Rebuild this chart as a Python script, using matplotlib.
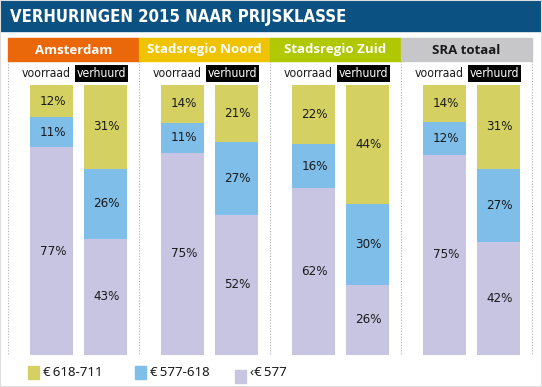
import matplotlib
matplotlib.use("Agg")
import numpy as np
from matplotlib import pyplot as plt
from matplotlib.patches import Rectangle
from matplotlib.transforms import blended_transform_factory

# data
regions = ["Amsterdam", "Stadsregio Noord", "Stadsregio Zuid", "SRA totaal"]
bar_names = ["voorraad", "verhuurd"]
classes = ["€\u2009618-711", "€\u2009577-618", "‹€\u2009577"]
# per region: [voorraad, verhuurd], each as (< 577, 577-618, 618-711)
low = [[77, 43], [75, 52], [62, 26], [75, 42]]
mid = [[11, 26], [11, 27], [16, 30], [12, 27]]
high = [[12, 31], [14, 21], [22, 44], [14, 31]]

# styling
W, H = 542, 387
title_bg = "#0B5283"
head_colors = ["#EA670A", "#F0C300", "#AFC800", "#C7C7C9"]
head_text = ["white", "white", "white", "#1a1a1a"]
col_high = "#D4D162"
col_mid = "#7EBEE9"
col_low = "#C8C5E2"
narrow = dict(family="DejaVu Sans", stretch="condensed")


def fx(x):
    return x / W


def fy(y):
    return 1 - y / H


fig = plt.figure(figsize=(W / 100, H / 100), dpi=100)
fig.patch.set_facecolor("white")

# title bar
fig.patches.append(Rectangle((0, fy(31)), 1, 31 / H, transform=fig.transFigure,
                             color=title_bg, zorder=0))
fig.text(fx(10), fy(16.5), "VERHURINGEN 2015 NAAR PRIJSKLASSE", color="white",
         weight="bold", fontsize=12, va="center", ha="left", **narrow)

# bar axes: group i spans x in [i, i+1]
ax = fig.add_axes([fx(8), fy(355), fx(532) - fx(8), fy(85) - fy(355)])
ax.set_xlim(0, len(regions))
ax.set_ylim(0, 1)
ax.axis("off")

offsets = [0.332, 0.744]
width = 0.328
for i in range(len(regions)):
    for j in range(2):
        vals = np.array([low[i][j], mid[i][j], high[i][j]], dtype=float)
        frac = vals / vals.sum()
        x = i + offsets[j]
        bottom = 0
        for v, f, c in zip(vals, frac, [col_low, col_mid, col_high]):
            ax.bar(x, f, width=width, bottom=bottom, color=c, edgecolor="none")
            ax.text(x + 0.01, bottom + f / 2, "%d%%" % v, ha="center", va="center",
                    fontsize=9.5, color="#1a1a1a", **narrow)
            bottom += f

# headers and labels in data-x / figure-y
tr = blended_transform_factory(ax.transData, fig.transFigure)
for i, name in enumerate(regions):
    ax.add_patch(Rectangle((i, fy(61)), 1, (61 - 38) / H, transform=tr,
                           color=head_colors[i], clip_on=False, zorder=3))
    ax.text(i + 0.5, fy(50), name, transform=tr, ha="center", va="center",
            family="Open Sans", weight="bold", fontsize=9.5, color=head_text[i],
            clip_on=False, zorder=4)
    ax.text(i + 0.294, fy(73.5), bar_names[0], transform=tr,
            ha="center", va="center", fontsize=8.7,
            color="#1a1a1a", clip_on=False, **narrow)
    ax.text(i + 0.714, fy(73.5), bar_names[1], transform=tr,
            ha="center", va="center", fontsize=8.7,
            color="white", clip_on=False,
            bbox=dict(boxstyle="square,pad=0.15", fc="black", ec="none"), **narrow)

# dotted separators
for i in range(len(regions) + 1):
    ax.plot([i, i], [fy(61), fy(355)], transform=tr, color="#b0b0b0", lw=0.8,
            ls=(0, (1, 1.5)), clip_on=False, zorder=1)
ax.plot([0, len(regions)], [fy(38), fy(38)], transform=tr, color="#d8d8d8",
        lw=0.8, clip_on=False, zorder=2)

# legend
leg_x = [28, 135, 235]
leg_y = [372.5, 372.5, 376]
for x, y, c, lab in zip(leg_x, leg_y, [col_high, col_mid, col_low], classes):
    fig.patches.append(Rectangle((fx(x), fy(y + 6.5)), 11 / W, 13 / H,
                                 transform=fig.transFigure, color=c))
    fig.text(fx(x + 15), fy(372.5), lab, family="Noto Sans", fontsize=9.5,
             color="#1a1a1a", va="center", ha="left")

# faint frame
fig.patches.append(Rectangle((0, 0), 1, 1, transform=fig.transFigure, fill=False,
                             ec="#dddddd", lw=1.5))

fig.savefig("out.png", dpi=100, facecolor=fig.get_facecolor())
